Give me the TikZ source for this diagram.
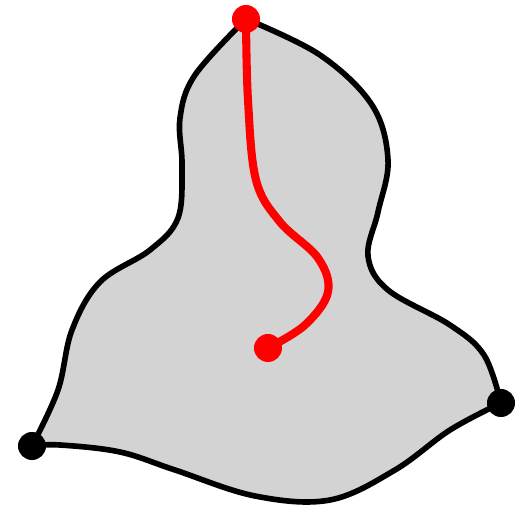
\documentclass[tikz,border=0pt]{standalone}
\begin{document}
\begin{tikzpicture}[x=0.01cm,y=-0.01cm,
  outline/.style={draw=black,line width=1.6pt,fill={rgb,255:red,211;green,211;blue,211},line join=round},
  redpath/.style={draw=red,line width=2.3pt,line cap=round},
  reddot/.style={circle,fill=red,inner sep=0pt,minimum size=0.28cm},
  blackdot/.style={circle,fill=black,inner sep=0pt,minimum size=0.28cm}]
\useasboundingbox (0,0) rectangle (530,516);
\coordinate (T) at (246,19);
\coordinate (R) at (501,403);
\coordinate (L) at (32,446);
\coordinate (E) at (268,348);
\path[outline] (T)
  plot[smooth,tension=0.6] coordinates {(246,19) (320,55) (372,105) (388,160) (378,212) (368,256) (388,290) (450,325) (484,355) (501,403)}
  -- plot[smooth,tension=0.6] coordinates {(501,403) (450,430) (395,470) (330,500) (255,496) (175,470) (120,452) (60,445) (32,446)}
  -- plot[smooth,tension=0.6] coordinates {(32,446) (58,390) (72,330) (100,282) (150,250) (178,218) (182,165) (180,118) (195,75) (246,19)}
  -- cycle;
\draw[redpath] (T) plot[smooth,tension=0.6] coordinates {(246,19) (248,100) (256,180) (280,222) (318,258) (328,292) (305,325) (268,348)};
\node[reddot] (t) at (T) {};
\node[reddot] (e) at (E) {};
\node[blackdot] (r) at (R) {};
\node[blackdot] (l) at (L) {};
\end{tikzpicture}
\end{document}
